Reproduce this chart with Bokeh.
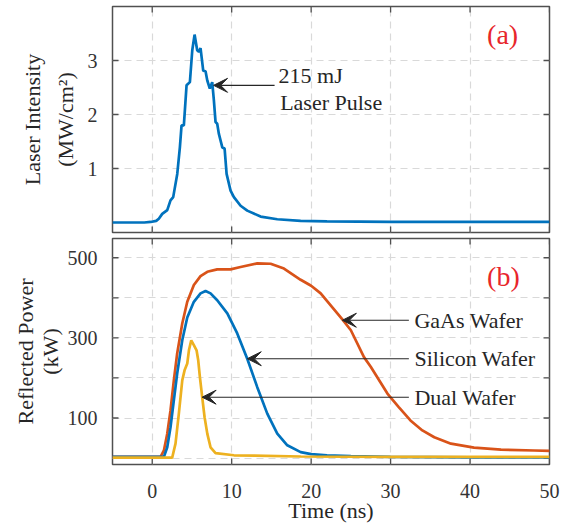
import math
from bokeh.plotting import figure
from bokeh.layouts import column
from bokeh.models import Range1d, FixedTicker, Label, Arrow, VeeHead, Title
from bokeh.embed import file_html
from bokeh.resources import INLINE

# ---------------- data ----------------
t_laser = [-5, -1, -0.2, 0.5, 0.83, 1.26, 1.89, 2.30, 2.64, 3.15, 3.48, 3.69, 3.98, 4.32,
           4.74, 5.04, 5.33, 5.66, 5.87, 6.08, 6.42, 6.71, 6.93, 7.25, 7.55, 7.76, 7.97,
           8.18, 8.39, 8.82, 9.11, 9.36, 9.86, 10.28, 11.12, 11.96, 13.64, 15.74, 18.68,
           22, 30, 40, 50]
laser_intensity = [0.0, 0.0, 0.01, 0.03, 0.07, 0.16, 0.23, 0.41, 0.47, 0.90, 1.39, 1.80, 1.80,
                   2.54, 2.60, 3.19, 3.48, 3.19, 3.16, 3.23, 2.81, 2.80, 2.63, 2.48, 2.60,
                   2.26, 1.86, 1.83, 1.64, 1.39, 1.37, 0.90, 0.59, 0.47, 0.31, 0.22, 0.11,
                   0.06, 0.03, 0.02, 0.01, 0.01, 0.01]

t_gaas = [-5, 1.05, 1.47, 1.89, 2.30, 2.72, 3.14, 3.78, 4.41, 5.24, 6.08, 6.93, 8.18, 9.86,
          11.12, 13.22, 14.9, 16.58, 18.68, 20, 21.2, 23.93, 25, 26.65, 27.5, 29.6, 31, 32.5,
          34, 35.5, 37.6, 40.5, 43.9, 48.1, 50]
p_gaas = [3, 3, 19, 61, 119, 194, 261, 336, 390, 432, 454, 465, 471, 471, 477, 486, 485, 473,
          445, 430, 411, 346, 319, 252, 228, 161, 128, 94, 69, 52, 36, 26, 21, 19, 18]

t_si = [-5, 1.47, 1.89, 2.30, 2.72, 3.14, 3.78, 4.41, 5.24, 6.08, 6.71, 7.34, 8.18, 9.45,
        10.7, 11.96, 13.22, 14.48, 15.74, 17.0, 18.68, 20, 22, 25, 30, 35, 40, 50]
p_si = [3, 3, 27, 77, 144, 211, 294, 351, 390, 411, 417, 411, 394, 361, 311, 248, 177, 111,
        61, 32, 15, 10, 7, 5, 3, 2.5, 2, 2]

t_dual = [-5, 2.51, 2.93, 3.35, 3.78, 4.07, 4.41, 4.62, 4.91, 5.24, 5.58, 5.79, 6.0, 6.29,
          6.59, 6.93, 7.34, 7.97, 10.28, 18.7, 30, 50]
p_dual = [1, 1, 36, 111, 194, 219, 236, 269, 294, 282, 269, 244, 202, 152, 102, 61, 27, 12.5,
          7, 4, 3, 3]

x_ticks = [0, 10, 20, 30, 40, 50]
y1_ticks = [1, 2, 3]
y1_label_ticks = [1, 2, 3]
y2_ticks = [0, 100, 200, 300, 400, 500]
y2_label_ticks = [100, 300, 500]

# ---------------- style ----------------
FONT = "Liberation Serif"
BLUE = "#0072BD"
ORANGE = "#D95319"
YELLOW = "#EDB120"
RED = "#E8262B"
FRAME = "#505050"
TXT = "#262626"
GRID = "#d9d9d9"

x_range = Range1d(-5, 50)


def make_fig(y_range, yticks, ylab_ticks, frame_h, show_x, top_border, bottom_border):
    p = figure(x_range=x_range, y_range=y_range, frame_width=437, frame_height=frame_h,
               min_border_left=112, min_border_right=14, min_border_top=top_border,
               min_border_bottom=bottom_border, output_backend="svg", toolbar_location=None,
               background_fill_color="white", border_fill_color="white",
               x_axis_location="below" if show_x else None)
    p.outline_line_color = FRAME
    p.outline_line_width = 1.5
    p.yaxis.ticker = FixedTicker(ticks=ylab_ticks)
    if show_x:
        p.xaxis.ticker = FixedTicker(ticks=x_ticks)
    for ax in p.axis:
        ax.axis_line_color = None
        ax.major_tick_line_color = None
        ax.minor_tick_line_color = None
        ax.major_label_text_font = FONT
        ax.major_label_text_font_size = "20px"
        ax.major_label_text_color = "#333333"
    p.yaxis.major_label_standoff = 9
    p.xgrid.ticker = FixedTicker(ticks=x_ticks)
    p.ygrid.ticker = FixedTicker(ticks=yticks)
    for g in (p.xgrid[0], p.ygrid[0]):
        g.grid_line_color = GRID
        g.grid_line_dash = "7 5"
        g.grid_line_width = 1.2
    # inward tick marks on all four sides (clipped half of a dash marker)
    nx, ny = len(x_ticks), len(yticks)
    tick_kw = dict(marker="dash", size=12, line_color=FRAME, line_width=1.3)
    p.scatter(x_ticks, [y_range.start] * nx, angle=math.pi / 2, **tick_kw)
    p.scatter(x_ticks, [y_range.end] * nx, angle=math.pi / 2, **tick_kw)
    p.scatter([x_range.start] * ny, yticks, **tick_kw)
    p.scatter([x_range.end] * ny, yticks, **tick_kw)
    return p


def side_title(p, text, offset, standoff):
    p.add_layout(Title(text=text, align="center", offset=offset, standoff=standoff,
                       text_font=FONT, text_font_size="22px", text_font_style="normal",
                       text_color=TXT), "left")


# ---------------- top panel ----------------
p1 = make_fig(Range1d(-0.185, 4.0), y1_ticks, y1_label_ticks, 226, False, 6, 3)
p1.line(t_laser, laser_intensity, line_color=BLUE, line_width=2.7)
side_title(p1, "(MW/cm\u00b2)", 18, 14)
side_title(p1, "Laser Intensity", 5, -3)

p1.add_layout(Arrow(x_start=15.4, y_start=2.54, x_end=7.72, y_end=2.54, line_color=TXT,
                    line_width=1.1,
                    end=VeeHead(size=14, fill_color=TXT, line_color=TXT, line_width=1)))
p1.add_layout(Label(x=15.9, y=2.72, text="215 mJ", text_align="left", text_baseline="middle",
                    text_font=FONT, text_font_size="22px", text_color=TXT))
p1.add_layout(Label(x=16.1, y=2.22, text="Laser Pulse", text_align="left",
                    text_baseline="middle", text_font=FONT, text_font_size="22px",
                    text_color=TXT))
p1.add_layout(Label(x=44.1, y=3.48, text="(a)", text_align="center", text_baseline="middle",
                    text_font=FONT, text_font_size="28px", text_color=RED))

# ---------------- bottom panel ----------------
p2 = make_fig(Range1d(-16, 548), y2_ticks, y2_label_ticks, 226, True, 3, 0)
xa = p2.below[0]
xa.major_label_standoff = 13
xa.axis_label = "Time (ns)"
xa.axis_label_text_font = FONT
xa.axis_label_text_font_size = "22px"
xa.axis_label_text_font_style = "normal"
xa.axis_label_text_color = TXT
xa.axis_label_standoff = -3
side_title(p2, "(kW)", 6, 4)
side_title(p2, "Reflected Power", 14, -9)

p2.line(t_gaas, p_gaas, line_color=ORANGE, line_width=2.7)
p2.line(t_si, p_si, line_color=BLUE, line_width=2.7)
p2.line(t_dual, p_dual, line_color=YELLOW, line_width=2.7)

annots = [("GaAs Wafer", 23.93, 344), ("Silicon Wafer", 11.96, 248), ("Dual Wafer", 6.28, 152)]
for txt, xh, yh in annots:
    p2.add_layout(Arrow(x_start=32.3, y_start=yh, x_end=xh, y_end=yh, line_color=TXT,
                        line_width=1.1,
                        end=VeeHead(size=14, fill_color=TXT, line_color=TXT, line_width=1)))
    p2.add_layout(Label(x=33.0, y=yh, text=txt, text_align="left", text_baseline="middle",
                        text_font=FONT, text_font_size="22px", text_color=TXT))
p2.add_layout(Label(x=44.2, y=452, text="(b)", text_align="center", text_baseline="middle",
                    text_font=FONT, text_font_size="28px", text_color=RED))

layout = column(p1, p2, spacing=0)
open("out.html", "w").write(file_html(layout, INLINE))
